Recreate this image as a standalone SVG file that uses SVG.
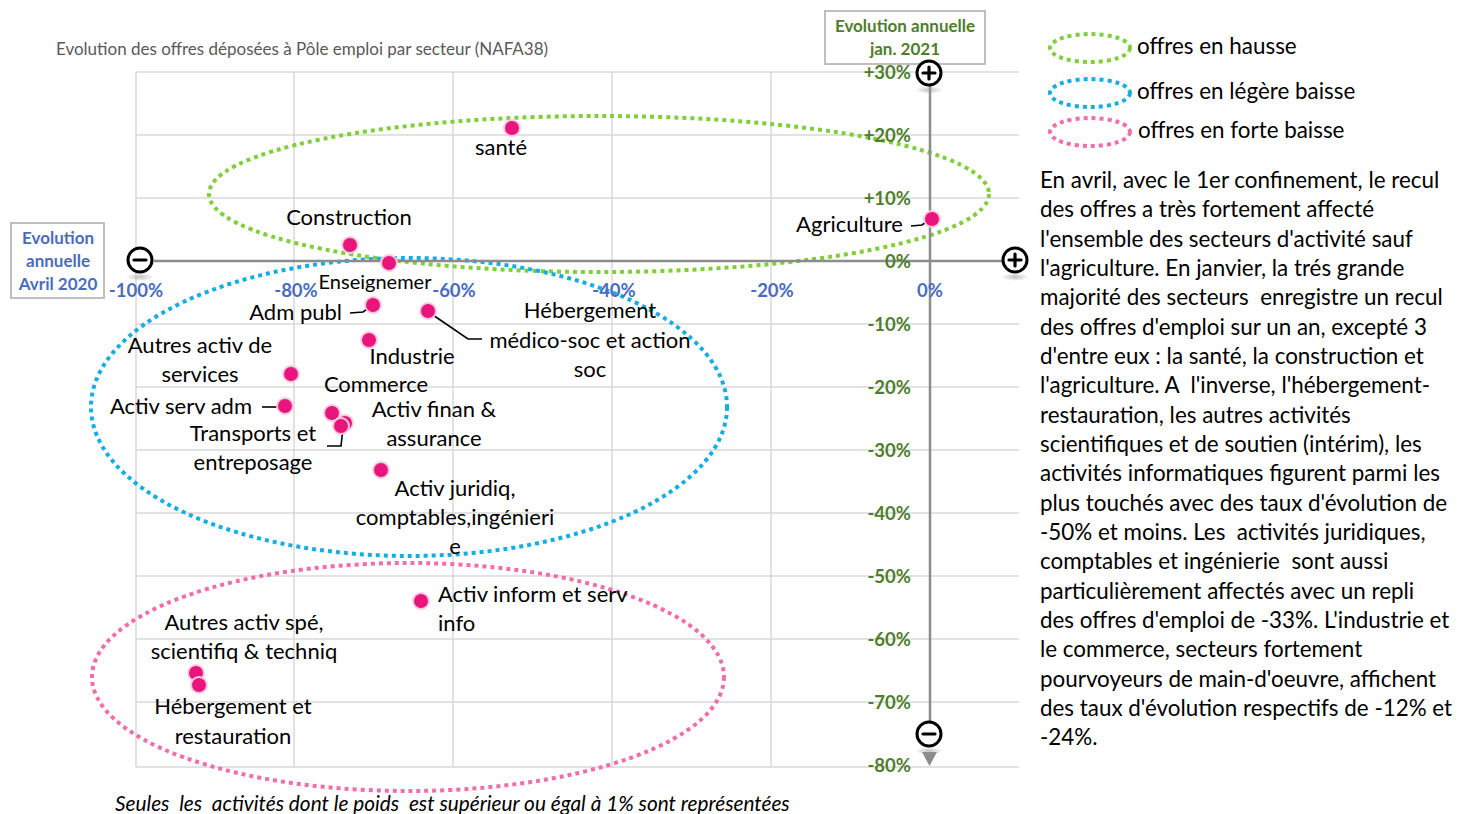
<svg xmlns="http://www.w3.org/2000/svg" width="1465" height="814" viewBox="0 0 1465 814">
<style>
text{font-family:Lato,"Open Sans","Liberation Sans",sans-serif;white-space:pre}
.grid{stroke:#D9D9D9;stroke-width:1.5;fill:none}
.axis{stroke:#8C8C8C;stroke-width:2.5;fill:none}
.xl{fill:#4A6CC0;font-size:18.5px;font-weight:bold;text-anchor:middle}
.yl{fill:#4E7D2C;font-size:18.5px;font-weight:bold;text-anchor:end}
.lbl{fill:#000;font-size:22px;text-anchor:middle}
.end{text-anchor:end}
.start{text-anchor:start}
.pt{fill:#E8157C;stroke:#F9C9DF;stroke-width:2}
.lead{stroke:#000;stroke-width:1.6;fill:none}
.icon{fill:#fff;stroke:#000;stroke-width:3}
.sign{stroke:#000;stroke-width:3.2;stroke-linecap:round}
.ell{fill:none;stroke-width:4;stroke-dasharray:4 4}
.para{fill:#000;font-size:22.4px}
.leg{fill:#000;font-size:22.4px}
.bx{font-size:17px;font-weight:bold;text-anchor:middle}
</style>
<defs>
<radialGradient id="sh" cx="0.5" cy="0.5" r="0.5">
<stop offset="0" stop-color="#999" stop-opacity="0.6"/>
<stop offset="1" stop-color="#999" stop-opacity="0"/>
</radialGradient>
</defs>
<rect width="1465" height="814" fill="#fff"/>

<!-- chart title -->
<text x="56" y="55" font-size="17" fill="#595959">Evolution des offres déposées à Pôle emploi par secteur (NAFA38)</text>

<!-- grid -->
<g id="grid">
<path class="grid" d="M136,72H1019M136,135H1019M136,198H1019M136,324H1019M136,387H1019M136,450H1019M136,513H1019M136,576H1019M136,639H1019M136,702H1019M136,767H1019"/>
<path class="grid" d="M136,72V767M294,72V767M453,72V767M612,72V767M771,72V767"/>
</g>

<!-- ellipses -->
<g id="groups">
<ellipse class="ell" cx="599" cy="194" rx="390" ry="78" stroke="#7FCF3A"/>
<ellipse class="ell" cx="409" cy="407" rx="318" ry="149" stroke="#14AEE6"/>
<ellipse class="ell" cx="408" cy="677" rx="316" ry="114" stroke="#F26DAA"/>
</g>

<!-- axes -->
<g id="axes">
<path class="axis" d="M154,261H1002"/>
<path class="axis" d="M930,86V722"/>
<path d="M922,752H937L929.5,766Z" fill="#8C8C8C"/>
</g>

<!-- axis labels -->
<g id="xlabels">
<text class="xl" x="136" y="297">-100%</text>
<text class="xl" x="296" y="297">-80%</text>
<text class="xl" x="454" y="297">-60%</text>
<text class="xl" x="614" y="297">-40%</text>
<text class="xl" x="772" y="297">-20%</text>
<text class="xl" x="930" y="297">0%</text>
</g>
<g id="ylabels">
<text class="yl" x="911" y="79">+30%</text>
<text class="yl" x="911" y="142">+20%</text>
<text class="yl" x="911" y="205">+10%</text>
<text class="yl" x="911" y="268">0%</text>
<text class="yl" x="911" y="331">-10%</text>
<text class="yl" x="911" y="394">-20%</text>
<text class="yl" x="911" y="457">-30%</text>
<text class="yl" x="911" y="520">-40%</text>
<text class="yl" x="911" y="583">-50%</text>
<text class="yl" x="911" y="646">-60%</text>
<text class="yl" x="911" y="709">-70%</text>
<text class="yl" x="911" y="772">-80%</text>
</g>

<!-- axis title boxes -->
<g id="box-jan2021">
<rect x="825" y="11" width="160" height="53" fill="#fff" stroke="#BFBFBF" stroke-width="2"/>
<text class="bx" x="905" y="32" fill="#4E7D2C">Evolution annuelle</text>
<text class="bx" x="905" y="55" fill="#4E7D2C">jan. 2021</text>
</g>
<g id="box-avril2020">
<rect x="11" y="223" width="93" height="75" fill="#fff" stroke="#BFBFBF" stroke-width="2"/>
<text class="bx" x="58" y="244" fill="#4A6CC0">Evolution</text>
<text class="bx" x="58" y="267" fill="#4A6CC0">annuelle</text>
<text class="bx" x="58" y="290" fill="#4A6CC0">Avril 2020</text>
</g>

<!-- axis end icons -->
<g id="icon-top-plus">
<ellipse cx="929" cy="90" rx="14" ry="4" fill="url(#sh)"/>
<circle class="icon" cx="929" cy="73" r="12"/>
<path class="sign" d="M923,73H935M929,67V79"/>
</g>
<g id="icon-left-minus">
<ellipse cx="140" cy="277" rx="14" ry="4" fill="url(#sh)"/>
<circle class="icon" cx="140" cy="260" r="12"/>
<path class="sign" d="M134,260H146"/>
</g>
<g id="icon-right-plus">
<ellipse cx="1015" cy="277" rx="14" ry="4" fill="url(#sh)"/>
<circle class="icon" cx="1015" cy="260" r="12"/>
<path class="sign" d="M1009,260H1021M1015,254V266"/>
</g>
<g id="icon-bottom-minus">
<ellipse cx="929" cy="751" rx="14" ry="4" fill="url(#sh)"/>
<circle class="icon" cx="929" cy="734" r="12"/>
<path class="sign" d="M923,734H935"/>
</g>

<!-- leader lines -->
<g id="connectors">
<path class="lead" d="M911,226L922,225L929,220"/>
<path class="lead" d="M350,313L363,312L370,307"/>
<path class="lead" d="M430,313L468,339H482"/>
<path class="lead" d="M262,407H282"/>
<path class="lead" d="M343,428L341,446H327"/>
</g>

<!-- data points with labels -->
<g id="n-sante"><circle class="pt" cx="512" cy="128" r="8"/><text class="lbl" x="501" y="155">santé</text></g>
<g id="n-construction"><circle class="pt" cx="350" cy="245" r="8"/><text class="lbl" x="349" y="225">Construction</text></g>
<g id="n-enseignement"><circle class="pt" cx="389" cy="263" r="8"/><text class="lbl" x="375" y="289" style="font-size:20px">Enseignemer</text></g>
<g id="n-agriculture"><circle class="pt" cx="932" cy="219" r="8"/><text class="lbl end" x="903" y="232">Agriculture</text></g>
<g id="n-admpubl"><circle class="pt" cx="373" cy="305" r="8"/><text class="lbl end" x="342" y="320">Adm publ</text></g>
<g id="n-heberg-medico"><circle class="pt" cx="428" cy="311" r="8"/>
<text class="lbl" x="590" y="318">Hébergement</text>
<text class="lbl" x="590" y="348">médico-soc et action</text>
<text class="lbl" x="590" y="377">soc</text></g>
<g id="n-industrie"><circle class="pt" cx="369" cy="340" r="8"/><text class="lbl" x="412" y="364">Industrie</text></g>
<g id="n-autres-services"><circle class="pt" cx="291" cy="374" r="8"/>
<text class="lbl" x="200" y="353">Autres activ de</text>
<text class="lbl" x="200" y="382">services</text></g>
<g id="n-servadm"><circle class="pt" cx="285" cy="406" r="8"/><text class="lbl end" x="252" y="414">Activ serv adm</text></g>
<g id="n-commerce"><circle class="pt" cx="332" cy="413" r="8"/><text class="lbl" x="376" y="392">Commerce</text></g>
<g id="n-finan"><circle class="pt" cx="345" cy="423" r="8"/>
<text class="lbl" x="434" y="417">Activ finan &amp;</text>
<text class="lbl" x="434" y="446">assurance</text></g>
<g id="n-transports"><circle class="pt" cx="341" cy="426" r="8"/>
<text class="lbl" x="253" y="441">Transports et</text>
<text class="lbl" x="253" y="470">entreposage</text></g>
<g id="n-juridiq"><circle class="pt" cx="381" cy="470" r="8"/>
<text class="lbl" x="455" y="496">Activ juridiq,</text>
<text class="lbl" x="455" y="525">comptables,ingénieri</text>
<text class="lbl" x="455" y="554">e</text></g>
<g id="n-inform"><circle class="pt" cx="421" cy="601" r="8"/>
<text class="lbl start" x="438" y="602">Activ inform et serv</text>
<text class="lbl start" x="438" y="631">info</text></g>
<g id="n-autres-spe"><circle class="pt" cx="196" cy="673" r="8"/>
<text class="lbl" x="244" y="630">Autres activ spé,</text>
<text class="lbl" x="244" y="659">scientifiq &amp; techniq</text></g>
<g id="n-heberg-resto"><circle class="pt" cx="199" cy="685" r="8"/>
<text class="lbl" x="233" y="714">Hébergement et</text>
<text class="lbl" x="233" y="744">restauration</text></g>

<!-- legend -->
<g id="legend">
<ellipse class="ell" cx="1090" cy="48" rx="40" ry="14" stroke="#7FCF3A" stroke-width="3.5"/>
<text class="leg" x="1137" y="54">offres en hausse</text>
<ellipse class="ell" cx="1090" cy="93" rx="40" ry="14" stroke="#14AEE6" stroke-width="3.5"/>
<text class="leg" x="1137" y="99">offres en légère baisse</text>
<ellipse class="ell" cx="1090" cy="132" rx="40" ry="14" stroke="#F26DAA" stroke-width="3.5"/>
<text class="leg" x="1138" y="138">offres en forte baisse</text>
</g>

<!-- commentary -->
<g id="commentary">
<text class="para" x="1040" y="188">En avril, avec le 1er confinement, le recul</text>
<text class="para" x="1040" y="217">des offres a très fortement affecté</text>
<text class="para" x="1040" y="247">l'ensemble des secteurs d'activité sauf</text>
<text class="para" x="1040" y="276">l'agriculture. En janvier, la trés grande</text>
<text class="para" x="1040" y="305">majorité des secteurs  enregistre un recul</text>
<text class="para" x="1040" y="335">des offres d'emploi sur un an, excepté 3</text>
<text class="para" x="1040" y="364">d'entre eux : la santé, la construction et</text>
<text class="para" x="1040" y="393">l'agriculture. A  l'inverse, l'hébergement-</text>
<text class="para" x="1040" y="423">restauration, les autres activités</text>
<text class="para" x="1040" y="452">scientifiques et de soutien (intérim), les</text>
<text class="para" x="1040" y="481">activités informatiques figurent parmi les</text>
<text class="para" x="1040" y="511">plus touchés avec des taux d'évolution de</text>
<text class="para" x="1040" y="540">-50% et moins. Les  activités juridiques,</text>
<text class="para" x="1040" y="569">comptables et ingénierie  sont aussi</text>
<text class="para" x="1040" y="599">particulièrement affectés avec un repli</text>
<text class="para" x="1040" y="628">des offres d'emploi de -33%. L'industrie et</text>
<text class="para" x="1040" y="657">le commerce, secteurs fortement</text>
<text class="para" x="1040" y="687">pourvoyeurs de main-d'oeuvre, affichent</text>
<text class="para" x="1040" y="716">des taux d'évolution respectifs de -12% et</text>
<text class="para" x="1040" y="745">-24%.</text>
</g>

<!-- caption -->
<text x="115" y="811" font-size="20.8" font-style="italic" fill="#000">Seules  les  activités dont le poids  est supérieur ou égal à 1% sont représentées</text>
</svg>
